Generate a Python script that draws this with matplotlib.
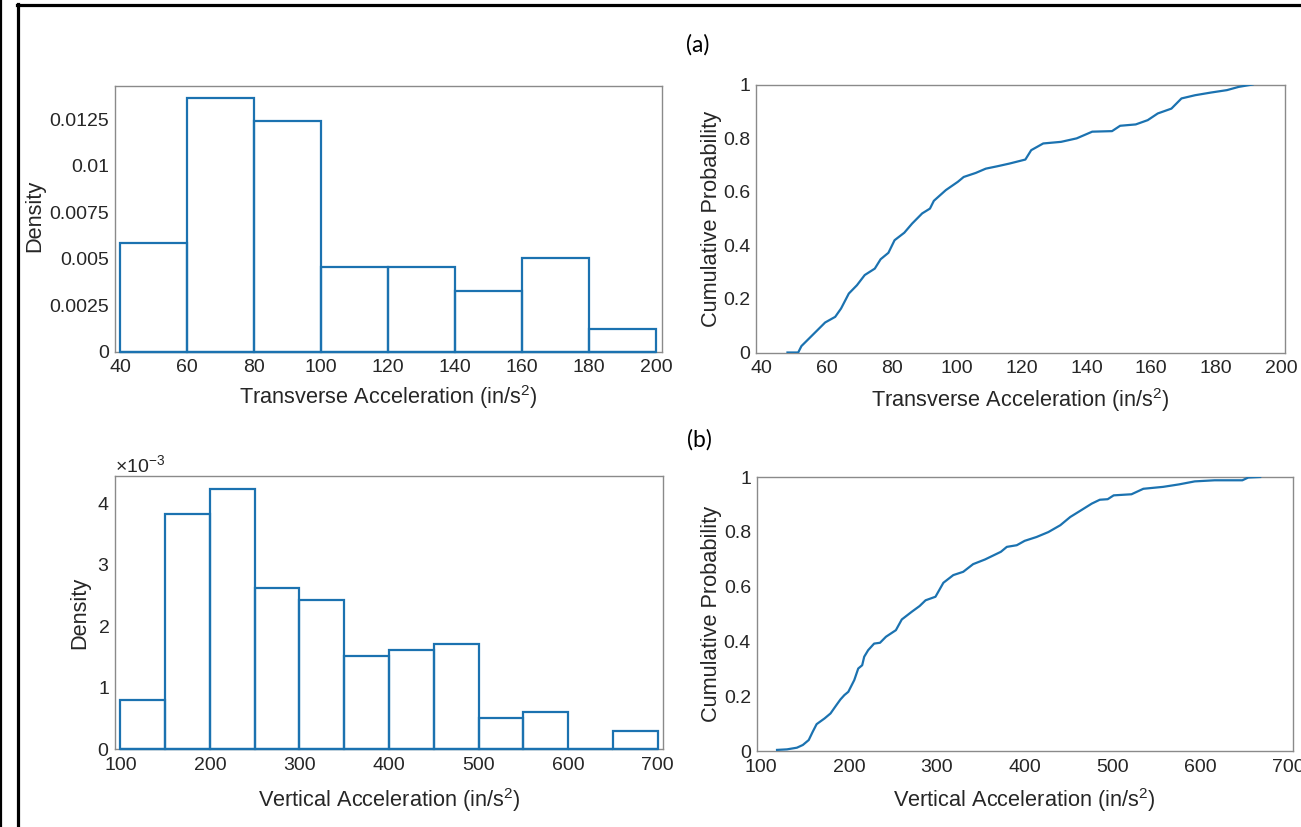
import matplotlib
matplotlib.use("Agg")
import matplotlib.pyplot as plt
from matplotlib.lines import Line2D
from matplotlib.ticker import ScalarFormatter

# ---------------- data ----------------
trans_edges = [40, 60, 80, 100, 120, 140, 160, 180, 200]
trans_density = [0.00583, 0.01367, 0.01241, 0.00456, 0.00456, 0.00328, 0.00505, 0.00123]

vert_edges = [100, 150, 200, 250, 300, 350, 400, 450, 500, 550, 600, 650, 700]
vert_density = [0.80e-3, 3.83e-3, 4.23e-3, 2.62e-3, 2.42e-3, 1.51e-3, 1.61e-3,
                1.71e-3, 0.50e-3, 0.60e-3, 0.0, 0.30e-3]

trans_cdf_x = [47.9, 51.2, 52.2, 57.1, 59.5, 62.6, 64.4, 66.8, 69.3, 71.7, 74.8, 76.6,
               79.0, 80.9, 83.9, 86.3, 89.4, 91.8, 93.0, 96.7, 100.4, 102.2, 105.9,
               109.0, 112.6, 116.3, 121.2, 123.0, 126.7, 132.2, 137.0, 141.8, 147.9,
               150.4, 155.2, 158.9, 162.0, 166.2, 169.3, 173.5, 178.4, 183.3, 186.9, 191.2]
trans_cdf_y = [0.0, 0.0, 0.024, 0.083, 0.112, 0.133, 0.164, 0.22, 0.251, 0.289, 0.313,
               0.348, 0.372, 0.419, 0.447, 0.481, 0.519, 0.537, 0.566, 0.606, 0.637,
               0.655, 0.670, 0.686, 0.695, 0.705, 0.720, 0.755, 0.780, 0.786, 0.799,
               0.824, 0.826, 0.846, 0.851, 0.867, 0.892, 0.910, 0.948, 0.960, 0.970,
               0.979, 0.991, 1.0]

vert_cdf_x = [118.0, 129.3, 140.6, 147.4, 154.1, 158.6, 163.1, 172.2, 178.9, 185.7,
              190.2, 194.7, 199.2, 206.0, 210.5, 215.0, 217.3, 221.8, 228.6, 235.3,
              242.1, 253.4, 260.1, 271.4, 280.4, 287.2, 298.5, 307.5, 318.8, 330.1,
              341.4, 354.9, 373.0, 379.8, 391.1, 400.1, 413.6, 427.1, 440.7, 452.0,
              463.1, 476.6, 485.7, 494.7, 501.5, 521.8, 535.3, 557.8, 575.9, 593.9,
              616.5, 648.1, 654.8, 668.4]
vert_cdf_y = [0.004, 0.006, 0.012, 0.022, 0.040, 0.070, 0.098, 0.119, 0.137, 0.168,
              0.188, 0.204, 0.216, 0.259, 0.301, 0.313, 0.344, 0.368, 0.392, 0.395,
              0.417, 0.441, 0.480, 0.508, 0.529, 0.550, 0.563, 0.614, 0.642, 0.654,
              0.682, 0.699, 0.727, 0.745, 0.751, 0.767, 0.781, 0.799, 0.824, 0.854,
              0.876, 0.903, 0.917, 0.919, 0.933, 0.937, 0.957, 0.964, 0.973, 0.984,
              0.988, 0.988, 0.998, 1.0]

trans_ticks = [40, 60, 80, 100, 120, 140, 160, 180, 200]
vert_ticks = [100, 200, 300, 400, 500, 600, 700]
trans_dens_ticks = [0, 0.0025, 0.005, 0.0075, 0.01, 0.0125]
trans_dens_labels = ["0", "0.0025", "0.005", "0.0075", "0.01", "0.0125"]
vert_dens_ticks = [0, 0.001, 0.002, 0.003, 0.004]
prob_ticks = [0, 0.2, 0.4, 0.6, 0.8, 1.0]
prob_labels = ["0", "0.2", "0.4", "0.6", "0.8", "1"]

# ---------------- style ----------------
plt.rcParams['font.family'] = ['Liberation Sans', 'DejaVu Sans']
plt.rcParams['mathtext.fontset'] = 'custom'
plt.rcParams['mathtext.rm'] = 'Liberation Sans'
plt.rcParams['mathtext.it'] = 'Liberation Sans'

BLUE = '#1b72b0'
SPINE = '#8a8a8a'
TXT = '#262626'
TICK_FS = 14
LAB_FS = 15.7

fig = plt.figure(figsize=(13.01, 8.27), dpi=100)
W, H = 1301, 827


def axes_px(left, top, right, bottom):
    return fig.add_axes([left / W, 1 - bottom / H, (right - left) / W, (bottom - top) / H])


def style(ax):
    for s in ax.spines.values():
        s.set_color(SPINE)
        s.set_linewidth(1.0)
    ax.tick_params(length=0, labelsize=TICK_FS, colors=TXT)
    ax.tick_params(axis='x', pad=5.5)
    ax.tick_params(axis='y', pad=4)


def hist_bars(ax, edges, dens):
    widths = [edges[i + 1] - edges[i] for i in range(len(dens))]
    ax.bar(edges[:-1], dens, width=widths, align='edge', fill=False,
           edgecolor=BLUE, linewidth=1.6, clip_on=False, zorder=3)
    # baseline of the bars (also shows the empty bins)
    ax.plot([edges[0], edges[-1]], [0, 0], color=BLUE, linewidth=1.6,
            clip_on=False, zorder=3, solid_capstyle='butt')


ax_tl = axes_px(115, 86, 661.5, 351.5)
ax_tr = axes_px(756, 84.5, 1285, 352.5)
ax_bl = axes_px(115, 476, 663, 749)
ax_br = axes_px(756.5, 477, 1293, 751)

# top-left histogram
hist_bars(ax_tl, trans_edges, trans_density)
ax_tl.set_xlim(38.4, 201.6)
ax_tl.set_ylim(0, 0.0143)
ax_tl.set_xticks(trans_ticks)
ax_tl.set_yticks(trans_dens_ticks)
ax_tl.set_yticklabels(trans_dens_labels)
style(ax_tl)
ax_tl.set_xlabel('Transverse Acceleration (in/s$^2$)', fontsize=LAB_FS, color=TXT, va='baseline')
ax_tl.xaxis.set_label_coords(0.5, -0.198)
ax_tl.set_ylabel('Density', fontsize=LAB_FS, color=TXT, va='center', ha='center')
ax_tl.yaxis.set_label_coords(-0.146, 0.51)

# top-right CDF
ax_tr.plot(trans_cdf_x, trans_cdf_y, color=BLUE, linewidth=1.6, zorder=3)
ax_tr.set_xlim(38.2, 201.2)
ax_tr.set_ylim(0, 1)
ax_tr.set_xticks(trans_ticks)
ax_tr.set_yticks(prob_ticks)
ax_tr.set_yticklabels(prob_labels)
style(ax_tr)
ax_tr.set_xlabel('Transverse Acceleration (in/s$^2$)', fontsize=LAB_FS, color=TXT, va='baseline')
ax_tr.xaxis.set_label_coords(0.5, -0.203)
ax_tr.set_ylabel('Cumulative Probability', fontsize=LAB_FS, color=TXT, va='center', ha='center')
ax_tr.yaxis.set_label_coords(-0.0837, 0.5)

# bottom-left histogram
hist_bars(ax_bl, vert_edges, vert_density)
ax_bl.set_xlim(94, 706)
ax_bl.set_ylim(0, 4.44e-3)
ax_bl.set_xticks(vert_ticks)
ax_bl.set_yticks(vert_dens_ticks)
fmt = ScalarFormatter(useMathText=True)
fmt.set_powerlimits((-3, -3))
ax_bl.yaxis.set_major_formatter(fmt)
style(ax_bl)
ax_bl.yaxis.get_offset_text().set_fontsize(TICK_FS)
ax_bl.yaxis.get_offset_text().set_color(TXT)
ax_bl.set_xlabel('Vertical Acceleration (in/s$^2$)', fontsize=LAB_FS, color=TXT, va='baseline')
ax_bl.xaxis.set_label_coords(0.5, -0.212)
ax_bl.set_ylabel('Density', fontsize=LAB_FS, color=TXT, va='center', ha='center')
ax_bl.yaxis.set_label_coords(-0.0639, 0.5)

# bottom-right CDF
ax_br.plot(vert_cdf_x, vert_cdf_y, color=BLUE, linewidth=1.6, zorder=3)
ax_br.set_xlim(94.6, 705.8)
ax_br.set_ylim(0, 1)
ax_br.set_xticks(vert_ticks)
ax_br.set_yticks(prob_ticks)
ax_br.set_yticklabels(prob_labels)
style(ax_br)
ax_br.set_xlabel('Vertical Acceleration (in/s$^2$)', fontsize=LAB_FS, color=TXT, va='baseline')
ax_br.xaxis.set_label_coords(0.5, -0.204)
ax_br.set_ylabel('Cumulative Probability', fontsize=LAB_FS, color=TXT, va='center', ha='center')
ax_br.yaxis.set_label_coords(-0.0835, 0.5)

# panel labels
fig.text(698 / W, 1 - 45 / H, '(a)', fontsize=16.5, family=['Lato', 'DejaVu Sans'],
         ha='center', va='center', color='black')
fig.text(699 / W, 1 - 440 / H, '(b)', fontsize=16.5, family=['Lato', 'DejaVu Sans'],
         ha='center', va='center', color='black')

# outer frame lines
fig.add_artist(Line2D([1.2 / W, 1.2 / W], [0, 1], transform=fig.transFigure,
                      color='black', linewidth=1.6))
fig.add_artist(Line2D([18.3 / W, 18.3 / W], [0, 1 - 4 / H], transform=fig.transFigure,
                      color='black', linewidth=2.3))
fig.add_artist(Line2D([17 / W, 1.0], [1 - 5.3 / H, 1 - 5.3 / H], transform=fig.transFigure,
                      color='black', linewidth=2.3))

fig.savefig('out.png', dpi=100)
